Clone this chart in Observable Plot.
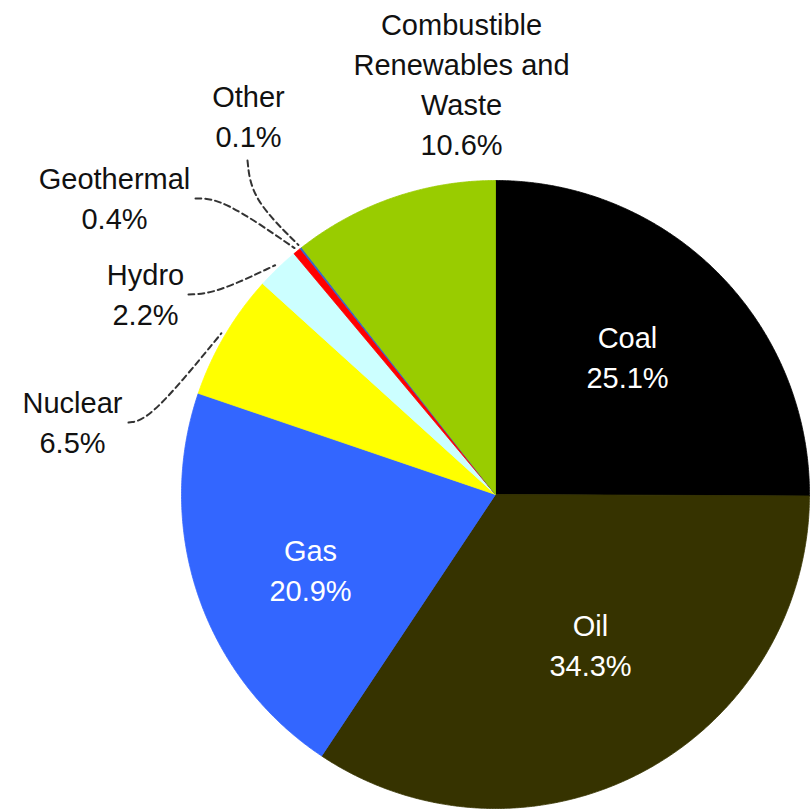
<!DOCTYPE html>
<html>
<head>
<meta charset="utf-8">
<script src="https://cdn.jsdelivr.net/npm/d3@7"></script>
<script src="https://cdn.jsdelivr.net/npm/@observablehq/plot@0.6"></script>
<style>
  html, body { margin: 0; padding: 0; background: #fff; }
  #chart svg { display: block; }
</style>
</head>
<body>
<div id="chart"></div>
<script>
// ---- data ----
const categories = ["Coal", "Oil", "Gas", "Nuclear", "Hydro", "Geothermal", "Other", "Combustible Renewables and Waste"];
const values = [25.1, 34.3, 20.9, 6.5, 2.2, 0.4, 0.1, 10.6];
const labelNames = ["Coal", "Oil", "Gas", "Nuclear", "Hydro", "Geothermal", "Other", "Combustible\nRenewables and\nWaste"];
const colors = ["#000000", "#363300", "#3366FF", "#FFFF00", "#CCFFFF", "#FF0000", "#3366CC", "#99CC00"];

// ---- layout ----
const W = 811, H = 809;
const cx = 495, cy = 494, R = 314;
// label anchor (centre of text block), text colour
const labelLayout = {
  "Coal": {x: 627, y: 355, fill: "#fff"},
  "Oil": {x: 590, y: 643, fill: "#fff"},
  "Gas": {x: 310, y: 568, fill: "#fff"},
  "Nuclear": {x: 72, y: 420, fill: "#111"},
  "Hydro": {x: 145, y: 292, fill: "#111"},
  "Geothermal": {x: 114, y: 196, fill: "#111"},
  "Other": {x: 248, y: 114, fill: "#111"},
  "Combustible Renewables and Waste": {x: 461, y: 82, fill: "#111"}
};
// leader lines: start point and bend point; end point computed on the slice
const leaderLayout = {
  "Nuclear": [[128, 422], [150, 419]],
  "Hydro": [[188, 294], [215, 293]],
  "Geothermal": [[195, 198], [222, 198]],
  "Other": [[247, 160], [251, 198]]
};

const rows = categories.map((c, i) => ({category: c, value: values[i], label: labelNames[i] + "\n" + values[i].toFixed(1) + "%"}));
const arcs = d3.pie().sort(null).value(d => d.value).startAngle(0).endAngle(2 * Math.PI)(rows);

const pt = (a, r) => [cx + r * Math.sin(a), cy - r * Math.cos(a)];

// slice polygons
const polys = [];
arcs.forEach(a => {
  const n = Math.max(2, Math.ceil((a.endAngle - a.startAngle) / 0.005));
  polys.push({category: a.data.category, x: cx, y: cy});
  for (let k = 0; k <= n; k++) {
    const t = a.startAngle + (a.endAngle - a.startAngle) * k / n;
    const [x, y] = pt(t, R);
    polys.push({category: a.data.category, x, y});
  }
  polys.push({category: a.data.category, x: cx, y: cy});
});

// leader lines
const leaders = [];
arcs.forEach(a => {
  const lay = leaderLayout[a.data.category];
  if (!lay) return;
  const mid = (a.startAngle + a.endAngle) / 2;
  const end = pt(mid, R + 4);
  [lay[0], lay[1], end].forEach(p => leaders.push({category: a.data.category, x: p[0], y: p[1]}));
});

const labels = rows.map(r => ({...r, ...labelLayout[r.category]}));

const chart = Plot.plot({
  width: W,
  height: H,
  margin: 0,
  style: {background: "#fff", overflow: "visible"},
  x: {domain: [0, W], range: [0, W], axis: null},
  y: {domain: [0, H], range: [0, H], axis: null},
  color: {domain: categories, range: colors},
  marks: [
    Plot.line(polys, {x: "x", y: "y", z: "category", fill: "category", stroke: "category", strokeWidth: 0.8, curve: "linear"}),
    Plot.line(leaders, {x: "x", y: "y", z: "category", stroke: "#333", strokeWidth: 2, strokeDasharray: "6,4", curve: "basis"}),
    Plot.text(labels, {x: "x", y: "y", text: "label", fill: d => d.fill, fontSize: 29, lineHeight: 1.38, fontFamily: "'Liberation Sans', Arial, sans-serif", textAnchor: "middle"})
  ]
});
document.getElementById("chart").appendChild(chart);
</script>
</body>
</html>
